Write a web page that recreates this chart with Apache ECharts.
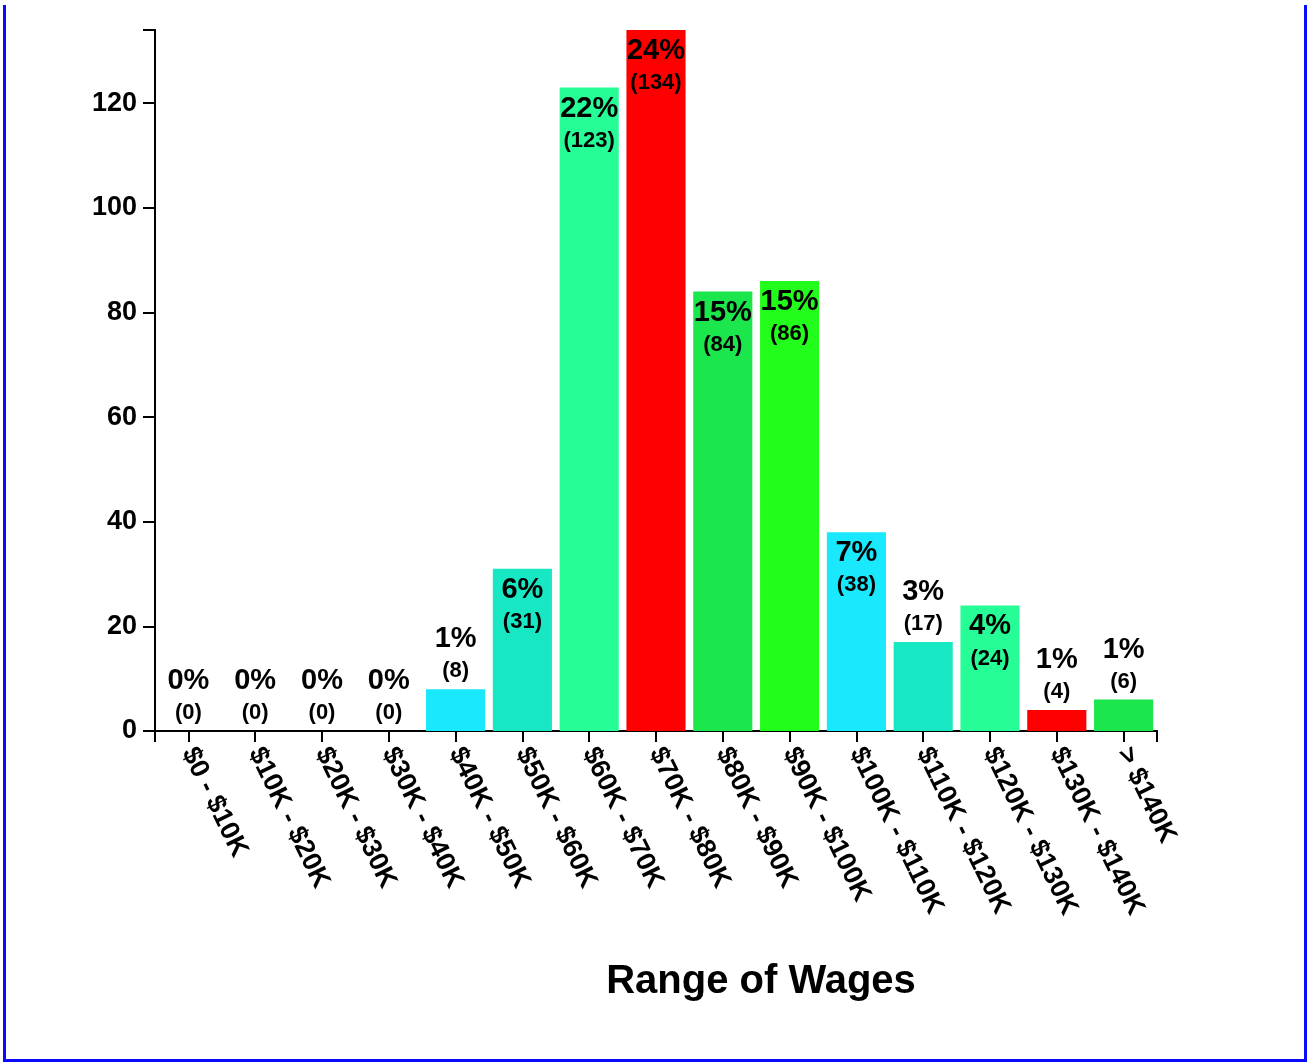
<!DOCTYPE html>
<html>
<head>
<meta charset="utf-8">
<script src="https://cdn.jsdelivr.net/npm/echarts@6/dist/echarts.min.js"></script>
<style>
  html, body { margin: 0; padding: 0; background: #fff; }
  #frame { position: absolute; left: 3px; top: 5px; width: 1298px; height: 1054px; border: 3px solid #0a0aff; border-top: none; }
  #chart { position: absolute; left: 0; top: 0; width: 1307px; height: 1063px; }
</style>
</head>
<body>
<div id="frame"></div>
<div id="chart"></div>
<script>
const categories = ['$0 - $10K', '$10K - $20K', '$20K - $30K', '$30K - $40K', '$40K - $50K', '$50K - $60K', '$60K - $70K', '$70K - $80K', '$80K - $90K', '$90K - $100K', '$100K - $110K', '$110K - $120K', '$120K - $130K', '$130K - $140K', '> $140K'];
const counts = [0, 0, 0, 0, 8, 31, 123, 134, 84, 86, 38, 17, 24, 4, 6];
const yMax = 134;
const yTickStep = 20;
const palette = ['#26FD96', '#FE0000', '#1BE64C', '#23FD1C', '#19E8FD', '#18E7C4'];
const axisTitle = 'Range of Wages';

const total = counts.reduce((a, b) => a + b, 0);
const FONT = '"Liberation Sans", Arial, sans-serif';

const seriesData = counts.map((v, i) => {
  const inside = v >= 20;
  return {
    value: v,
    itemStyle: { color: palette[i % palette.length] },
    label: { position: inside ? 'insideTop' : 'top', distance: inside ? 6 : 1 }
  };
});

const chart = echarts.init(document.getElementById('chart'), null, { renderer: 'canvas' });
chart.setOption({
  animation: false,
  backgroundColor: 'transparent',
  grid: { left: 155, right: 150, top: 30, bottom: 332, containLabel: false },
  xAxis: [{
    type: 'category',
    data: categories,
    axisLine: { show: true, lineStyle: { color: '#000', width: 2 } },
    axisTick: { show: true, alignWithLabel: true, interval: 0, length: 11, lineStyle: { color: '#000', width: 2 } },
    axisLabel: { interval: 0, rotate: -64, margin: 18, color: '#000', fontFamily: FONT, fontWeight: 'bold', fontSize: 27 },
    name: axisTitle,
    nameLocation: 'middle',
    nameGap: 231,
    nameTextStyle: { color: '#000', fontFamily: FONT, fontWeight: 'bold', fontSize: 40, padding: [0, 0, 0, 210] }
  }, {
    type: 'value', position: 'bottom', min: 0, max: 1, interval: 1,
    axisLine: { show: true, lineStyle: { color: '#000', width: 2 } },
    axisTick: { show: true, length: 11, lineStyle: { color: '#000', width: 2 } },
    axisLabel: { show: false }, splitLine: { show: false }
  }],
  yAxis: [{
    type: 'value', min: 0, max: yMax, interval: yTickStep,
    axisLine: { show: true, lineStyle: { color: '#000', width: 2 } },
    axisTick: { show: true, length: 12, lineStyle: { color: '#000', width: 2 } },
    axisLabel: { margin: 18, showMaxLabel: false, color: '#000', fontFamily: FONT, fontWeight: 'bold', fontSize: 27 },
    splitLine: { show: false }
  }, {
    type: 'value', position: 'left', min: 0, max: yMax, interval: yMax,
    axisLine: { show: true, lineStyle: { color: '#000', width: 2 } },
    axisTick: { show: true, length: 12, lineStyle: { color: '#000', width: 2 } },
    axisLabel: { show: false }, splitLine: { show: false }
  }],
  series: [{
    type: 'bar',
    xAxisIndex: 0,
    yAxisIndex: 0,
    barCategoryGap: '11.5%',
    data: seriesData,
    label: {
      show: true,
      formatter: p => '{p|' + Math.round(p.value / total * 100) + '%}\n{c|(' + p.value + ')}',
      rich: {
        p: { fontFamily: FONT, fontWeight: 'bold', fontSize: 29, color: '#000', lineHeight: 30, align: 'center' },
        c: { fontFamily: FONT, fontWeight: 'bold', fontSize: 22, color: '#000', lineHeight: 34, align: 'center' }
      }
    }
  }]
});
</script>
</body>
</html>
